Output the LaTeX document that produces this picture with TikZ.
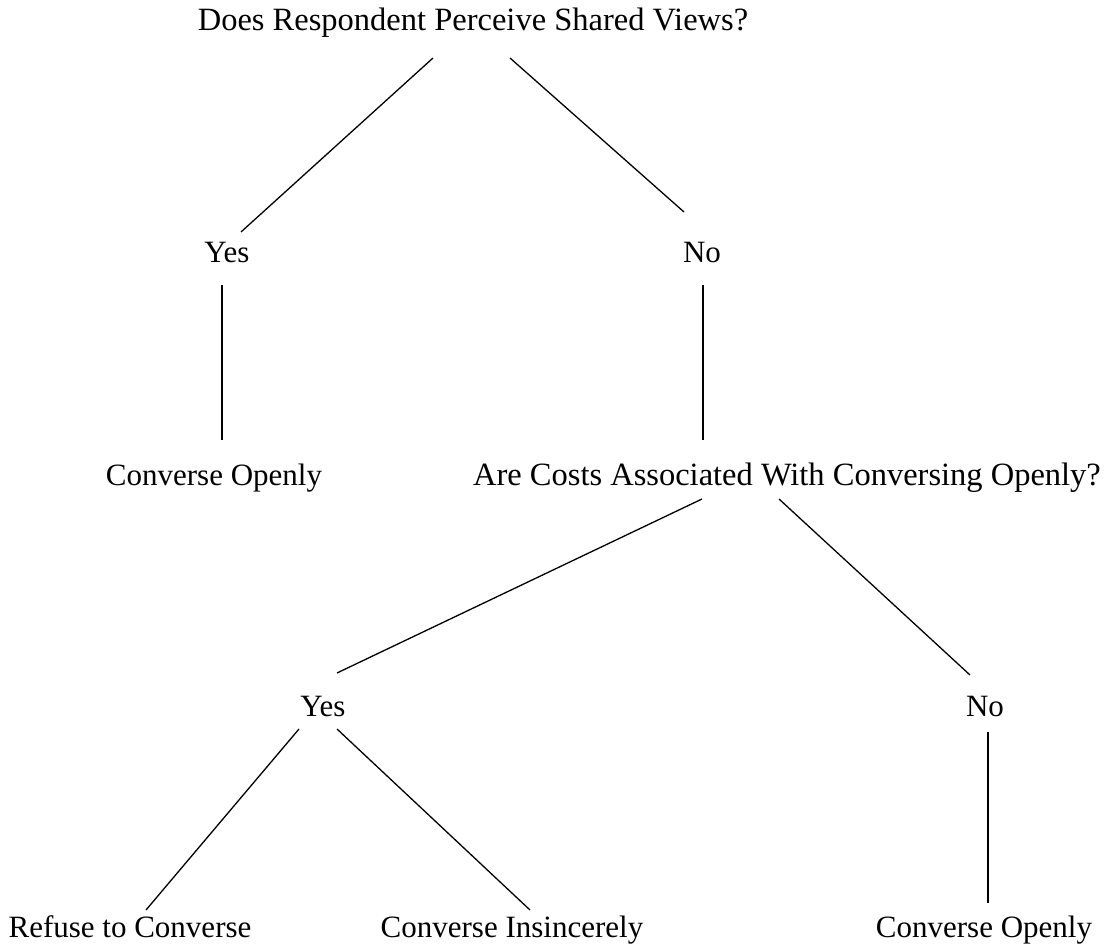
\documentclass[tikz,border=0pt]{standalone}
\usepackage{fontspec}
\setmainfont{Liberation Serif}
\begin{document}
\begin{tikzpicture}[x=1pt,y=-1pt,
  lbl/.style={font=\fontsize{31}{37}\selectfont, inner sep=0pt, anchor=base},
  biglbl/.style={lbl, font=\fontsize{32.5}{38}\selectfont},
  edge/.style={line width=1.3pt, black}]
\useasboundingbox (0,0) rectangle (1112,949);
% texts
\node[biglbl] (q1) at (473,31) {Does Respondent Perceive Shared Views?};
\node[lbl] (y1) at (227,263) {Yes};
\node[lbl] (n1) at (702,263) {No};
\node[lbl] (c1) at (214,486) {Converse Openly};
\node[biglbl] (q2) at (787,486) {Are Costs Associated With Conversing Openly?};
\node[lbl] (y2) at (323,716) {Yes};
\node[lbl] (n2) at (985,716) {No};
\node[lbl] (r)  at (130,937) {Refuse to Converse};
\node[lbl] (ci) at (512,937) {Converse Insincerely};
\node[lbl] (c2) at (984,937) {Converse Openly};
% connector end points
\coordinate (q1l) at (433,58);  \coordinate (y1t) at (241,232);
\coordinate (q1r) at (510,58);  \coordinate (n1t) at (684,212);
\coordinate (y1b) at (222,285); \coordinate (c1t) at (222,440);
\coordinate (n1b) at (703,285); \coordinate (q2t) at (703,440);
\coordinate (q2l) at (702,499); \coordinate (y2t) at (337,673);
\coordinate (q2r) at (779,499); \coordinate (n2t) at (970,675);
\coordinate (y2l) at (299,729); \coordinate (rt)  at (146,910);
\coordinate (y2r) at (337,729); \coordinate (cit) at (530,910);
\coordinate (n2b) at (988,732); \coordinate (c2t) at (988,903);
% connectors
\draw[edge] (q1l) -- (y1t);
\draw[edge] (q1r) -- (n1t);
\draw[edge] (y1b) -- (c1t);
\draw[edge] (n1b) -- (q2t);
\draw[edge] (q2l) -- (y2t);
\draw[edge] (q2r) -- (n2t);
\draw[edge] (y2l) -- (rt);
\draw[edge] (y2r) -- (cit);
\draw[edge] (n2b) -- (c2t);
\end{tikzpicture}
\end{document}
